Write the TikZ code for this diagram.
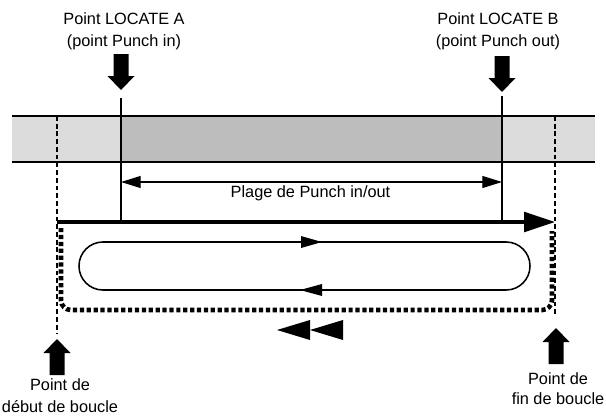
\documentclass[tikz,border=0pt]{standalone}
\usepackage{fontspec}
\setmainfont{Liberation Sans}
\usetikzlibrary{arrows.meta}

\definecolor{bandlight}{HTML}{DCDCDC}
\definecolor{banddark}{HTML}{BDBDBD}

\begin{document}
\begin{tikzpicture}[x=0.025cm, y=-0.025cm,
    lbl/.style={align=center, inner sep=0pt, font=\fontsize{11.6}{16}\selectfont},
    marker/.style={line width=0.9pt},
    loopedge/.style={dash pattern=on 3.4pt off 2.1pt, line width=1.2pt},
    blockarrow/.pic={\fill (-7.5,-36) -- (-7.5,-14) -- (-13.5,-14) -- (0,0) -- (13.5,-14) -- (7.5,-14) -- (7.5,-36) -- cycle;}]
    \useasboundingbox (0,0) rectangle (606,415);

    % track band
    \fill[bandlight] (12,116) rectangle (595,162);
    \fill[banddark] (121,116) rectangle (502,162);
    \draw[line width=0.9pt] (12,116) -- (595,116) (12,162) -- (595,162);

    \coordinate (locA) at (121,98);
    \coordinate (locAbot) at (121,222);
    \coordinate (locB) at (502,96);
    \coordinate (locBbot) at (502,222);
    \coordinate (rangeA) at (121,182);
    \coordinate (rangeB) at (502,182);
    \coordinate (startTop) at (57,116);
    \coordinate (startBot) at (57,333);
    \coordinate (endTop) at (555,116);
    \coordinate (endBot) at (555,317);
    \coordinate (playStart) at (57,222);
    \coordinate (playEnd) at (555,222);

    \node[lbl] (labelA) at (124,31.5) {Point LOCATE A\\(point Punch in)};
    \node[lbl] (labelB) at (498,31.5) {Point LOCATE B\\(point Punch out)};
    \node[lbl] (rangeLabel) at (310.5,193) {Plage de Punch in/out};
    \node[lbl, font=\fontsize{11.6}{15.6}\selectfont] (labelStart) at (60,395.5) {Point de\\début de boucle};
    \node[lbl, font=\fontsize{11.6}{14.2}\selectfont] (labelEnd) at (558,389) {Point de\\fin de boucle};

    \pic at (121,90) {blockarrow};
    \pic at (502,92) {blockarrow};
    \pic[rotate=180] at (57,339) {blockarrow};
    \pic[rotate=180] at (556,328) {blockarrow};

    \draw[marker] (locA) -- (locAbot);
    \draw[marker] (locB) -- (locBbot);
    \draw[loopedge] (startTop) -- (startBot);
    \draw[loopedge] (endTop) -- (endBot);
    \draw[marker, {Triangle[length=14pt,width=8.5pt]}-{Triangle[length=14pt,width=8.5pt]}] (rangeA) -- (rangeB);
    \draw[line width=2.4pt, -{Triangle[length=22pt,width=14pt]}] (playStart) -- (playEnd);

    % loop playback
    \draw[line width=1.1pt, rounded corners=17pt] (79,242) rectangle (530,290);
    \fill (301,236) -- (322,242) -- (301,248) -- cycle;
    \fill (322,284) -- (300,290) -- (322,296) -- cycle;
    \draw[line width=3.3pt, dash pattern=on 3pt off 1.9pt, rounded corners=7pt] (61,228) -- (61,310) -- (552,310) -- (552,231);
    \fill (310,320) -- (277,330) -- (310,340) -- cycle;
    \fill (343,320) -- (310,330) -- (343,340) -- cycle;
\end{tikzpicture}
\end{document}
